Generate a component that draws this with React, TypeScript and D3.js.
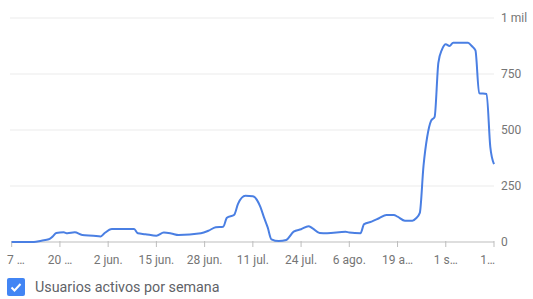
import React, { useRef, useEffect } from "react";
import * as d3 from "d3";

// day offsets from 7 may + weekly active users
const dayOffsets = [0, 6, 8, 10, 11, 12, 14, 15, 17, 19, 22, 24, 25, 27, 33, 34, 36, 39, 41, 43, 45, 51, 53, 55, 57, 58, 60, 61, 63, 65, 67, 68, 69, 70, 72, 74, 76, 78, 80, 81, 83, 85, 90, 91, 94, 95, 97, 99, 101, 103, 104, 106, 108, 109, 110, 111, 112, 113, 114, 115, 116, 117, 118, 119, 123, 124, 125, 126, 128, 129, 130];
const activeUsers = [0, 0, 6, 12, 24, 40, 43, 39, 43, 31, 28, 25, 39, 58, 58, 39, 35, 28, 42, 38, 31, 39, 50, 66, 68, 108, 122, 170, 206, 204, 158, 110, 65, 12, 4, 9, 46, 57, 70, 62, 40, 39, 46, 42, 39, 80, 91, 106, 121, 121, 113, 95, 95, 106, 130, 340, 470, 540, 559, 800, 860, 883, 875, 890, 890, 875, 855, 664, 661, 425, 348];

const tickLabels = ["7 …", "20 …", "2 jun.", "15 jun.", "28 jun.", "11 jul.", "24 jul.", "6 ago.", "19 a…", "1 s…", "1…"];
const yTicks = [0, 250, 500, 750, 1000];
const yTickLabels = ["0", "250", "500", "750", "1 mil"];
const seriesName = "Usuarios activos por semana";

const App: React.FC = () => {
  const svgRef = useRef<SVGSVGElement>(null);

  useEffect(() => {
    const svg = d3.select(svgRef.current);
    svg.selectAll("*").remove();

    const start = new Date(2023, 4, 7);
    const dates = dayOffsets.map(d => d3.timeDay.offset(start, d));
    const data: [Date, number][] = dates.map((d, i) => [d, activeUsers[i]]);

    const x = d3.scaleTime().domain([start, d3.timeDay.offset(start, 130)]).range([11.7, 494]);
    const y = d3.scaleLinear().domain([0, 1000]).range([242, 18]);

    const font = "Roboto, sans-serif";
    const grey = "#757575";

    // gridlines
    svg.append("g")
      .selectAll("line")
      .data(yTicks.filter(t => t > 0))
      .enter()
      .append("line")
      .attr("x1", 10)
      .attr("x2", 494)
      .attr("y1", d => y(d))
      .attr("y2", d => y(d))
      .attr("stroke", "#ebebeb")
      .attr("stroke-width", 1);

    // baseline + ticks
    svg.append("line")
      .attr("x1", x.range()[0])
      .attr("x2", x.range()[1])
      .attr("y1", y(0))
      .attr("y2", y(0))
      .attr("stroke", "#bdbdbd")
      .attr("stroke-width", 1);

    const tickDates = tickLabels.map((_, i) => d3.timeDay.offset(start, i * 13));

    svg.append("g")
      .selectAll("line")
      .data(tickDates)
      .enter()
      .append("line")
      .attr("x1", d => x(d))
      .attr("x2", d => x(d))
      .attr("y1", y(0) - 1)
      .attr("y2", y(0) + 5)
      .attr("stroke", "#bdbdbd");

    svg.append("g")
      .selectAll("text")
      .data(tickDates)
      .enter()
      .append("text")
      .attr("x", (d, i) => i === 0 ? 7 : i === tickLabels.length - 1 ? 495 : x(d))
      .attr("y", 264)
      .attr("text-anchor", (_, i) => i === 0 ? "start" : i === tickLabels.length - 1 ? "end" : "middle")
      .attr("font-family", font)
      .attr("font-size", 12)
      .attr("fill", grey)
      .text((_, i) => tickLabels[i]);

    // y labels on the right
    svg.append("g")
      .selectAll("text")
      .data(yTicks)
      .enter()
      .append("text")
      .attr("x", 501)
      .attr("y", d => y(d) + 4)
      .attr("font-family", font)
      .attr("font-size", 12)
      .attr("fill", grey)
      .text((_, i) => yTickLabels[i]);

    const line = d3.line<[Date, number]>()
      .curve(d3.curveMonotoneX)
      .x(d => x(d[0]))
      .y(d => y(d[1]));

    svg.append("path")
      .datum(data)
      .attr("fill", "none")
      .attr("stroke", "#4a7fe3")
      .attr("stroke-width", 2)
      .attr("stroke-linejoin", "round")
      .attr("d", line);

    // legend
    const lg = svg.append("g").attr("transform", "translate(7,278)");
    lg.append("rect")
      .attr("width", 18)
      .attr("height", 18)
      .attr("rx", 2)
      .attr("fill", "#4285f4");
    lg.append("path")
      .attr("d", "M4.5,9.5 L7.5,12.5 L13.5,6")
      .attr("fill", "none")
      .attr("stroke", "#fff")
      .attr("stroke-width", 2);
    lg.append("text")
      .attr("x", 28)
      .attr("y", 14)
      .attr("font-family", font)
      .attr("font-size", 14.3)
      .attr("fill", "#5f6368")
      .text(seriesName);
  }, []);

  return (
    <svg
      ref={svgRef}
      width={533}
      height={299}
      style={{ position: "absolute", left: 0, top: 0, background: "#fff" }}
    />
  );
};

export default App;
